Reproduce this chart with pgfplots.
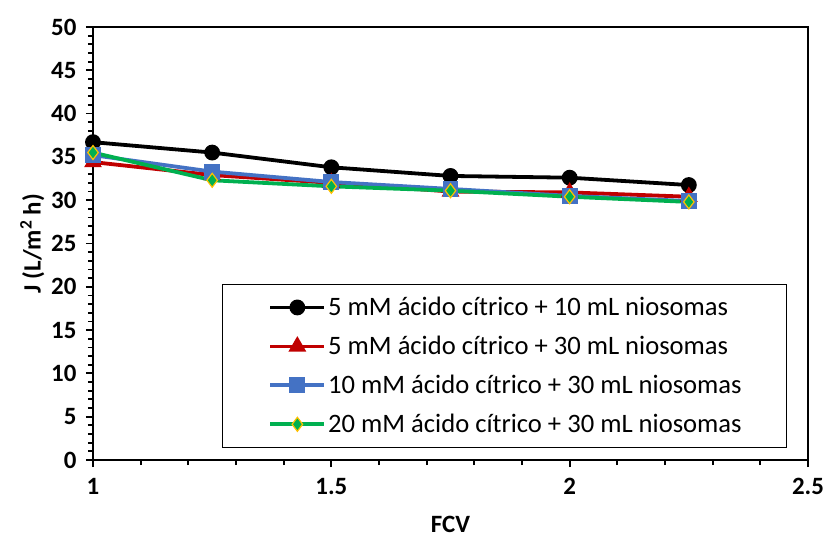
\documentclass[border=0pt]{standalone}
\usepackage{fontspec}
\setmainfont{Carlito}
\usepackage{pgfplots}
\pgfplotsset{compat=1.18}
\usetikzlibrary{calc}
\definecolor{exred}{HTML}{C00000}
\definecolor{exblue}{HTML}{4472C4}
\definecolor{exgreen}{HTML}{00B050}
\definecolor{exgold}{HTML}{FFC000}
\begin{document}
\begin{tikzpicture}
\begin{axis}[
  scale only axis, width=715bp, height=433bp,
  xmin=1, xmax=2.5, ymin=0, ymax=50,
  xtick={1,1.5,2,2.5}, ytick={0,5,...,50},
  minor x tick num=4, minor y tick num=4,
  axis x line=bottom, axis y line=left,
  axis line style={-, line width=2.4bp},
  tick align=outside, major tick length=7bp, minor tick length=5bp,
  every tick/.style={black, line width=1.8bp},
  tick label style={font=\fontsize{25}{27}\selectfont\bfseries},
  /pgf/number format/assume math mode=true,
  xticklabel style={yshift=-8bp},
  yticklabel style={xshift=-6bp},
  xlabel={FCV}, ylabel={J (L/m\textsuperscript{2} h)},
  label style={font=\fontsize{25}{27}\selectfont\bfseries},
  xlabel style={yshift=-14bp},
  ylabel style={yshift=0bp},
  legend style={at={(0.971,0.028)}, anchor=south east, draw=black, line width=1.2bp,
    font=\fontsize{26.7}{29}\selectfont, inner xsep=6bp, inner ysep=11bp,
    row sep=15bp, cells={anchor=west}},
  legend image code/.code={
    \path[draw=none,fill=none] (0bp,0bp) -- (42bp,0bp);
    \draw[mark repeat=2,mark phase=2] plot coordinates {(42bp,0bp) (69bp,0bp) (96bp,0bp)};},
  after end axis/.code={
    \draw[black, line width=1.6bp] (rel axis cs:0,1) -- (rel axis cs:1,1) -- (rel axis cs:1,0);},
]
\addplot[black, line width=3.8bp, mark=*, mark size=6bp, mark options={solid}]
  coordinates {(1,36.7) (1.25,35.5) (1.5,33.8) (1.75,32.8) (2,32.6) (2.25,31.75)};
\addlegendentry{5 mM ácido cítrico + 10 mL niosomas}
\addplot[exred, line width=3.8bp, mark=triangle*, mark size=6.5bp, mark options={solid,fill=exred}]
  coordinates {(1,34.4) (1.25,32.9) (1.5,32.0) (1.75,31.0) (2,30.9) (2.25,30.4)};
\addlegendentry{5 mM ácido cítrico + 30 mL niosomas}
\addplot[exblue, line width=3.8bp, mark=square*, mark size=6bp, mark options={solid,fill=exblue}]
  coordinates {(1,35.2) (1.25,33.3) (1.5,32.1) (1.75,31.3) (2,30.5) (2.25,29.9)};
\addlegendentry{10 mM ácido cítrico + 30 mL niosomas\hspace*{37bp}}
\addplot[exgreen, line width=3.8bp, mark=diamond*, mark size=7bp, mark options={solid,fill=exgreen,draw=exgold,line width=1.2bp}]
  coordinates {(1,35.5) (1.25,32.3) (1.5,31.6) (1.75,31.1) (2,30.4) (2.25,29.8)};
\addlegendentry{20 mM ácido cítrico + 30 mL niosomas}
\end{axis}
\pgfresetboundingbox
\path ($(current axis.south west)+(-93bp,-80bp)$) rectangle ($(current axis.north east)+(15bp,27bp)$);
\end{tikzpicture}
\end{document}
